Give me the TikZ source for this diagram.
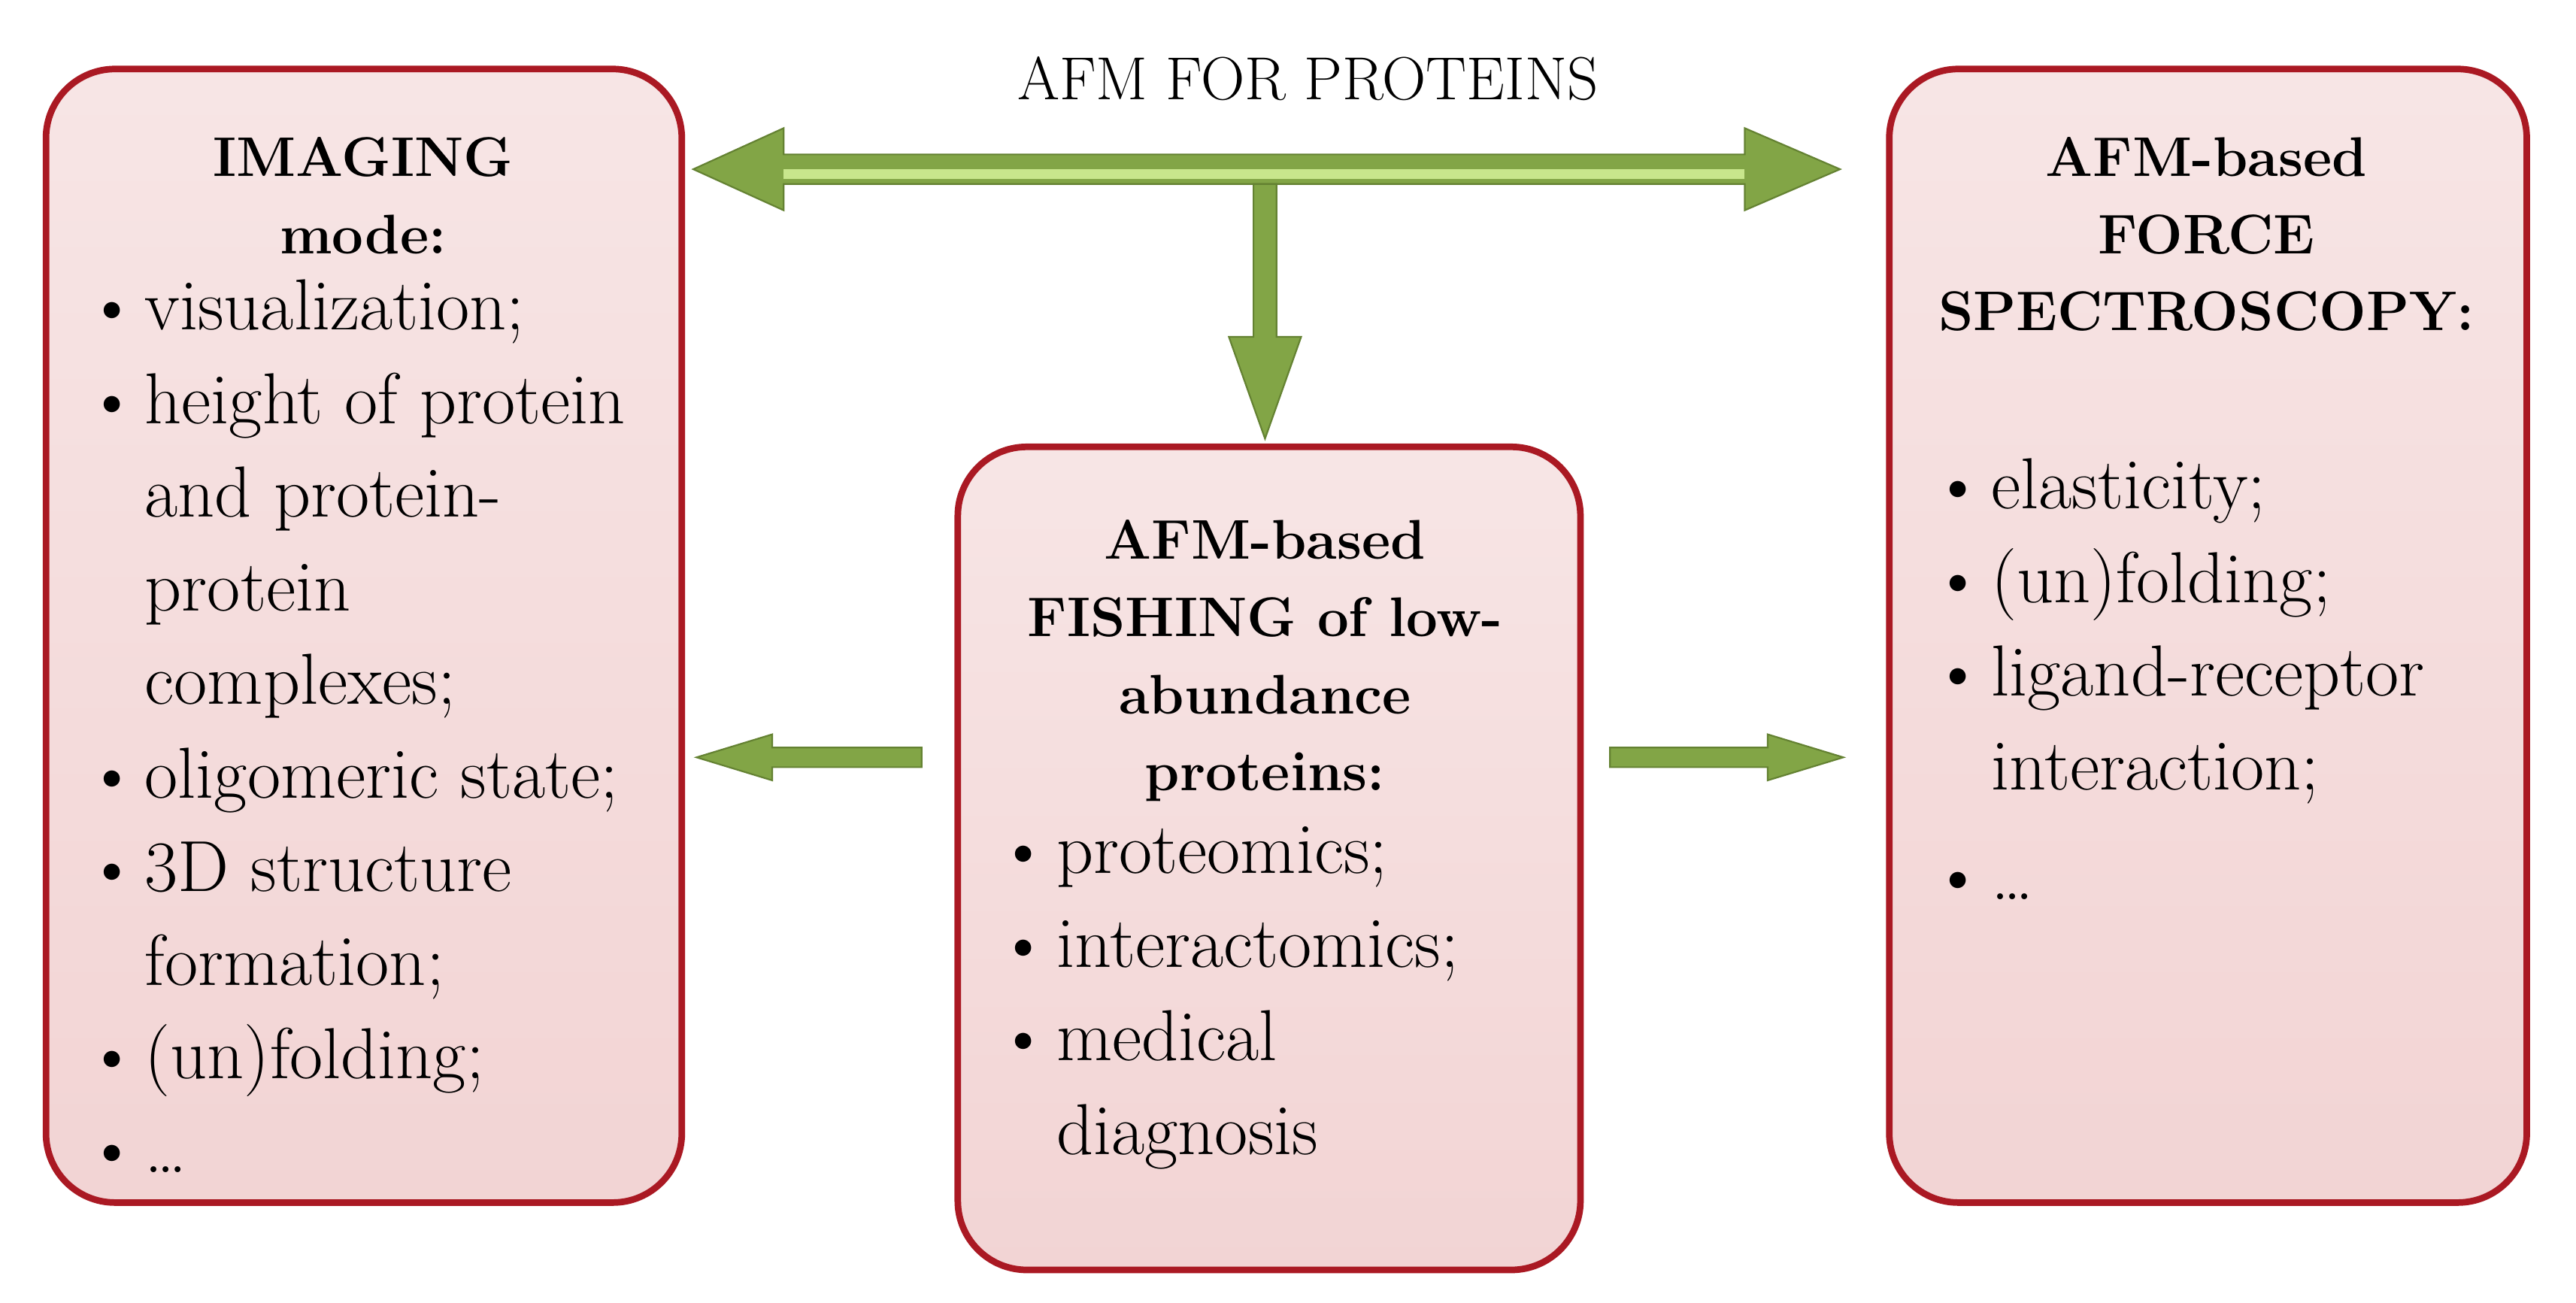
\documentclass[tikz,border=0pt]{standalone}
\begin{document}
\begin{tikzpicture}[x=1pt,y=-1pt,
  box/.style={draw=boxred,line width=4pt,rounded corners=42pt,top color=boxpink!60,bottom color=boxpink},
  hd/.style={font=\fontsize{34}{47}\selectfont\bfseries,align=center,anchor=north},
  lst/.style={font=\fontsize{44}{57}\selectfont,align=left,anchor=north west,inner sep=0pt},
  arr/.style={fill=arrgreen,draw=arrdark,line width=1pt}]
\definecolor{boxred}{RGB}{170,25,35}
\definecolor{boxpink}{RGB}{242,212,212}
\definecolor{arrgreen}{RGB}{130,165,70}
\definecolor{arrdark}{RGB}{100,130,50}
\definecolor{arrlight}{RGB}{200,230,140}
\useasboundingbox (0,0) rectangle (1568,793);
\fill[white] (0,0) rectangle (1568,793);
% boxes
\draw[box] (28,42) rectangle (415,732);
\draw[box] (583,272) rectangle (962,773);
\draw[box] (1150,42) rectangle (1538,732);
% title
\node[font=\fontsize{37}{40}\selectfont] (title) at (796,48) {AFM FOR PROTEINS};
% horizontal double arrow
\coordinate (hl) at (422,103);
\coordinate (hr) at (1120,103);
\fill[arr] (hl) -- (477,78) -- (477,94) -- (1062,94) -- (1062,78) -- (hr) -- (1062,128) -- (1062,112) -- (477,112) -- (477,128) -- cycle;
\fill[arrlight] (477,103) rectangle (1062,109);
% vertical arrow
\coordinate (vt) at (770,112);
\coordinate (vb) at (770,267);
\fill[arr] (763,112) -- (763,205) -- (748,205) -- (vb) -- (792,205) -- (777,205) -- (777,112) -- cycle;
% small arrows
\coordinate (la) at (424,461);
\coordinate (ra) at (1122,461);
\fill[arr] (la) -- (470,447) -- (470,455) -- (561,455) -- (561,467) -- (470,467) -- (470,475) -- cycle;
\fill[arr] (ra) -- (1076,447) -- (1076,455) -- (980,455) -- (980,467) -- (1076,467) -- (1076,475) -- cycle;
% left box text
\node[hd] (lh) at (221,80) {IMAGING\\mode:};
\node[lst] (ll) at (52,170) {\hbox to 36pt{\textbullet\hfil}visualization;\\
\hbox to 36pt{\textbullet\hfil}height of protein\\
\hbox to 36pt{}and protein-\\
\hbox to 36pt{}protein\\
\hbox to 36pt{}complexes;\\
\hbox to 36pt{\textbullet\hfil}oligomeric state;\\
\hbox to 36pt{\textbullet\hfil}3D structure\\
\hbox to 36pt{}formation;\\
\hbox to 36pt{\textbullet\hfil}(un)folding;\\
\hbox to 36pt{\textbullet\hfil}\dots};
% middle box text
\node[hd] (mh) at (770,313) {AFM-based\\FISHING of low-\\abundance\\proteins:};
\node[lst] (ml) at (607,503) {\hbox to 36pt{\textbullet\hfil}proteomics;\\
\hbox to 36pt{\textbullet\hfil}interactomics;\\
\hbox to 36pt{\textbullet\hfil}medical\\
\hbox to 36pt{}diagnosis};
% right box text
\node[hd] (rh) at (1343,80) {AFM-based\\FORCE\\SPECTROSCOPY:};
\node[lst] (rl) at (1176,279) {\hbox to 36pt{\textbullet\hfil}elasticity;\\
\hbox to 36pt{\textbullet\hfil}(un)folding;\\
\hbox to 36pt{\textbullet\hfil}ligand-receptor\\
\hbox to 36pt{}interaction;\\[10pt]
\hbox to 36pt{\textbullet\hfil}\dots};
\end{tikzpicture}
\end{document}
